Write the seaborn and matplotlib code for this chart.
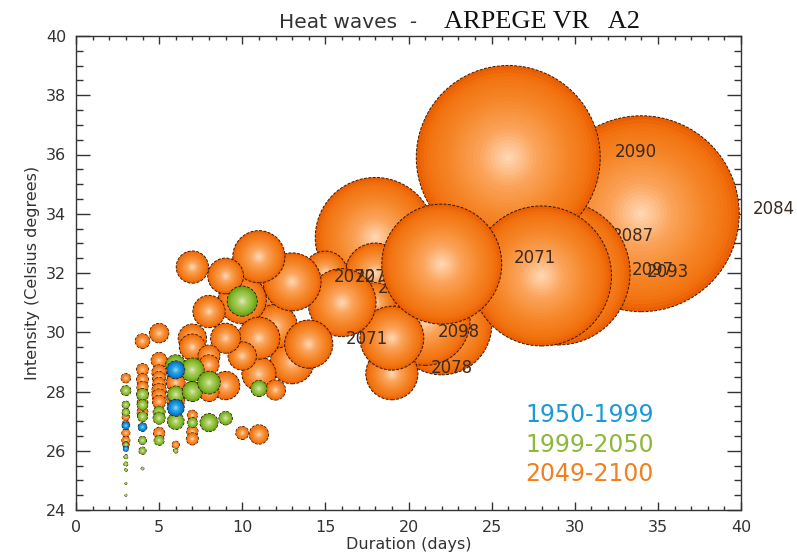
import numpy as np
import pandas as pd
import matplotlib
matplotlib.use("Agg")
import matplotlib.pyplot as plt
from matplotlib.colors import LinearSegmentedColormap, to_hex
from matplotlib.ticker import MultipleLocator
import seaborn as sns

# heat wave bubbles, listed back to front. severity drives the bubble area
orange_dur = [34, 29, 22, 21, 18, 26, 28, 18, 18, 19, 19, 15, 12, 13, 12, 10, 16, 13, 14,
              11, 11, 11, 10, 9, 9, 8, 7, 7, 7, 8, 8, 9, 8, 12,
              3, 3, 3, 3, 3, 3, 4, 4, 4, 4, 4, 4, 4, 5, 5, 5, 5, 5, 5, 5, 5, 5, 6, 6, 6, 6, 7, 7, 7, 10, 11, 22]
orange_int = [34.0, 32.0, 30.25, 30.4, 33.2, 35.9, 31.9, 32.0, 31.0, 28.6, 29.8, 32.0, 31.5, 29.0, 30.2, 31.1, 31.0, 31.7, 29.6,
              32.55, 28.6, 29.8, 29.2, 31.9, 29.8, 30.7, 32.2, 29.8, 29.5, 29.2, 28.9, 28.2, 28.0, 28.05,
              28.45, 27.15, 26.9, 26.6, 26.35, 26.2, 29.7, 28.74, 28.4, 28.15, 27.9, 27.6, 27.3,
              29.97, 29.05, 28.65, 28.45, 28.25, 28.03, 27.85, 27.65, 26.6, 28.6, 28.3, 27.7, 26.2, 27.2, 26.65, 26.4, 26.6, 26.55, 32.3]
orange_sev = [960, 518, 250, 202, 360, 846, 490, 90, 40, 68, 102, 48, 62, 48, 48, 58, 116, 84, 58,
              68, 29, 44, 20, 32, 22.5, 26, 26, 20, 17, 12, 10, 20, 10, 10,
              2.2, 1.4, 1.4, 1.6, 1.6, 1.1, 5.3, 3.6, 3.6, 3.2, 3.4, 3.0, 3.0,
              9.4, 6.4, 5.3, 4.4, 4.4, 5.3, 5.0, 4.4, 3.2, 8.0, 8.7, 8.0, 1.3, 2.5, 3.2, 3.6, 4.2, 9.4, 360]

green_dur = [3, 3, 3, 3, 3, 3, 3, 3, 3, 4, 4, 4, 4, 4, 4, 5, 5, 5, 6, 6, 6, 6, 7, 7, 7, 8, 8, 9, 11, 10]
green_int = [28.03, 27.55, 27.3, 26.2, 25.8, 25.55, 25.35, 24.9, 24.5, 27.9, 27.55, 27.15, 26.35, 26.0, 25.4,
             27.3, 27.1, 26.35, 28.9, 27.9, 27.0, 26.0, 28.73, 28.0, 26.95, 28.3, 26.95, 27.1, 28.1, 31.05]
green_sev = [2.5, 1.4, 1.4, 0.7, 0.4, 0.4, 0.2, 0.1, 0.1, 3.6, 2.8, 2.5, 1.6, 1.3, 0.2,
             3.6, 3.6, 2.5, 10, 7, 7, 0.5, 13.7, 10, 2.5, 12.8, 8.1, 4.5, 6.4, 22.5]

blue_dur = [3, 3, 4, 6, 6]
blue_int = [26.85, 26.07, 26.8, 28.73, 27.45]
blue_sev = [1.4, 0.7, 1.9, 8.1, 7.2]

years = ["2090", "2084", "2087", "2097", "2093", "2071", "2072", "2079", "2075", "2071", "2098", "2078"]
year_dur = [33.7, 42.0, 33.5, 34.7, 35.6, 27.6, 16.8, 18.05, 19.4, 17.5, 23.05, 22.6]
year_int = [36.1, 34.15, 33.26, 32.1, 32.04, 32.5, 31.87, 31.87, 31.5, 29.78, 30.0, 28.8]
# which stack of bubbles each year label sits on
year_stage = [0, 0, 0, 0, 0, 1, 1, 1, 1, 2, 2, 2]

periods = ["1950-1999", "1999-2050", "2049-2100"]
period_int = [27.2, 26.2, 25.2]
period_colors = ["#1C9AD6", "#8DB83B", "#F08020"]

N_LAYERS = 26
ramps = {
    "orange": [(0, "#FFD6B0"), (0.3, "#FBA45C"), (0.6, "#F68A2E"), (0.9, "#F2720F"), (1, "#EA5E02")],
    "green": [(0, "#DCE8B8"), (0.3, "#B0D068"), (0.7, "#8ABC32"), (1, "#62A012")],
    "blue": [(0, "#8FDCFA"), (0.35, "#2FA8EA"), (0.75, "#0F86D8"), (1, "#0A64B0")],
}
series = {
    "orange": (orange_dur, orange_int, orange_sev),
    "green": (green_dur, green_int, green_sev),
    "blue": (blue_dur, blue_int, blue_sev),
}

sns.set_theme(style="ticks")
plt.rcParams.update({
    "font.family": "DejaVu Sans",
    "axes.edgecolor": "#333333",
    "axes.linewidth": 1.0,
    "text.color": "#333333",
    "xtick.color": "#333333",
    "ytick.color": "#333333",
})

# one row per shading ring, in draw order, so a single scatter keeps the overlaps right
rows = []
palette = {}
for name, (dur, inten, sev) in series.items():
    cmap = LinearSegmentedColormap.from_list(name, ramps[name])
    for k in range(N_LAYERS):
        palette[f"{name}{k:02d}"] = to_hex(cmap(1 - k / (N_LAYERS - 1)))
    for n, (d, i, s) in enumerate(zip(dur, inten, sev)):
        # the far right bubble goes first, the x=22 bubble goes over the rest
        stage = 2
        if name == "orange":
            stage = 0 if n == 0 else (2 if n == len(dur) - 1 else 1)
        for k in range(N_LAYERS):
            frac = 1 - k / N_LAYERS
            rows.append({"dur": d, "int": i, "sev": s * frac ** 2, "shade": f"{name}{k:02d}",
                         "rim": 0.7 if k == 0 else 0.0, "stage": stage})
df = pd.DataFrame(rows)

fig = plt.figure(figsize=(7.97, 5.59), dpi=100)
ax = fig.add_axes([76 / 797, 1 - 510 / 559, 665 / 797, 474 / 559])

for stage in [0, 1, 2]:
    sub = df[df["stage"] == stage]
    sns.scatterplot(data=sub, x="dur", y="int", size="sev", sizes=(0, 20736), size_norm=(0, 1000),
                    hue="shade", palette=palette, legend=False, ax=ax,
                    edgecolor="#3A1800", linewidth=sub["rim"].values, linestyle=(0, (3, 1.5)),
                    zorder=2 + 2 * stage)

ax.set_xlim(0, 40)
ax.set_ylim(24, 40)
ax.xaxis.set_major_locator(MultipleLocator(5))
ax.xaxis.set_minor_locator(MultipleLocator(1))
ax.yaxis.set_major_locator(MultipleLocator(2))
ax.yaxis.set_minor_locator(MultipleLocator(0.5))
ax.tick_params(axis="y", which="major", direction="in", right=True, length=10, width=1, labelsize=11.5, pad=7)
ax.tick_params(axis="y", which="minor", direction="in", right=True, length=5, width=1)
ax.tick_params(axis="x", which="major", direction="in", top=True, length=6, width=1, labelsize=11.5, pad=7)
ax.tick_params(axis="x", which="minor", direction="in", top=True, length=3, width=1)
ax.set_xlabel("Duration (days)", fontsize=11.5, color="#333333", labelpad=2)
ax.set_ylabel("Intensity (Celsius degrees)", fontsize=11.5, color="#333333", labelpad=4)

for y, d, i, stage in zip(years, year_dur, year_int, year_stage):
    ax.text(d, i, y, fontsize=12, color="#3A2A20", ha="center", va="center", zorder=3 + 2 * stage)

for p, c, i in zip(periods, period_colors, period_int):
    ax.text(30.9, i, p, fontsize=17, color=c, ha="center", va="center", fontweight="medium", zorder=10)

fig.text(279 / 797, 1 - 23 / 559, "Heat waves  -", fontsize=14.5, color="#333333", va="center", ha="left")
fig.text(444 / 797, 1 - 22 / 559, "ARPEGE VR   A2", fontsize=19, color="#111111", va="center", ha="left",
         family="Liberation Serif")

fig.savefig("out.png", dpi=100)
plt.close("all")
